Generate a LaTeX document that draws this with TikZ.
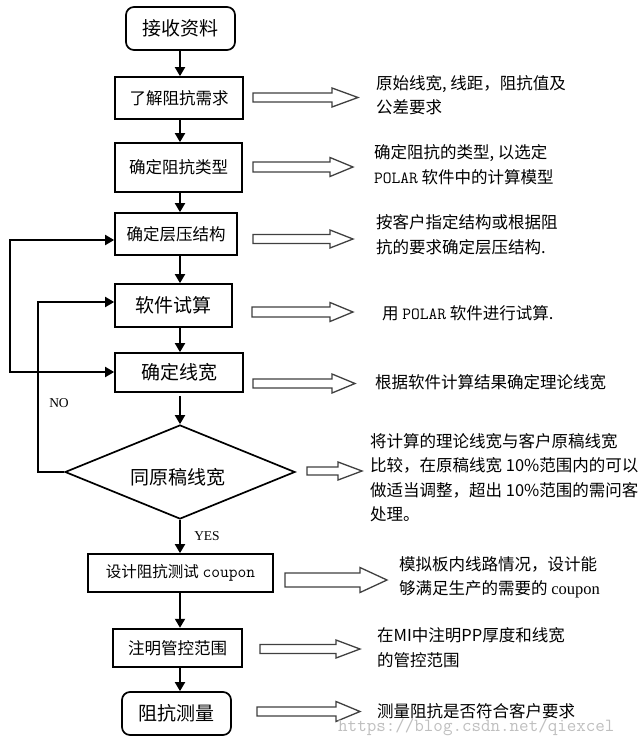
\documentclass[tikz,border=0pt]{standalone}
\usepackage{fontspec}
\setmainfont{Liberation Serif}
\newfontfamily\cjk{Noto Sans CJK SC}
\newcommand\mymono{\ttfamily}
\usetikzlibrary{arrows.meta,shapes.geometric}
\newcommand\hollowarr[6]{%
  \draw[blk] (#1,{#4-#5}) -- (#2,{#4-#5}) -- (#2,{#4-#6}) -- (#3,#4) -- (#2,{#4+#6}) -- (#2,{#4+#5}) -- (#1,{#4+#5}) -- cycle;}
\begin{document}
\begin{tikzpicture}[x=1pt,y=-1pt,
  boxs/.style={draw, line width=1.7pt, inner sep=0pt, font=\cjk\fontsize{16.5}{18}\selectfont},
  boxl/.style={draw, line width=1.7pt, inner sep=0pt, font=\cjk\fontsize{19}{21}\selectfont},
  rbox/.style={boxl, rounded corners=8pt},
  dia/.style={draw, line width=1.7pt, diamond, inner sep=0pt, shape aspect=2.44,
    minimum width=230pt, minimum height=94pt},
  diatext/.style={inner sep=0pt, font=\cjk\fontsize{19}{21}\selectfont},
  flow/.style={line width=1.8pt, -{Triangle[length=9pt,width=10pt]}},
  flowboth/.style={line width=1.8pt, {Triangle[length=9pt,width=10pt]}-{Triangle[length=9pt,width=10pt]}},
  blk/.style={draw=black!75, line width=1.3pt, fill=white},
  note/.style={anchor=west, align=left, inner sep=0pt, font=\cjk\fontsize{16.5}{24.5}\selectfont},
  lbl/.style={inner sep=0pt, font=\fontsize{13.5}{15}\selectfont},
]
\useasboundingbox (0,0) rectangle (638,742);
\fill[white] (0,0) rectangle (638,742);

\coordinate (ax) at (180,0);
% flow boxes
\node[rbox, minimum width=109pt, minimum height=43pt] (recv) at (180.5,28.5) {接收资料};
\node[boxs, minimum width=128pt, minimum height=42pt] (need) at (179,98) {了解阻抗需求};
\node[boxs, minimum width=127pt, minimum height=49pt] (type) at (178.5,167.5) {确定阻抗类型};
\node[boxs, minimum width=122pt, minimum height=42pt] (lay) at (176,234) {确定层压结构};
\node[boxl, minimum width=117pt, minimum height=43pt] (soft) at (173.5,305.5) {软件试算};
\node[boxl, minimum width=128pt, minimum height=39pt] (wid) at (179,372.5) {确定线宽};
\node[dia] (cmp) at (180,472) {};
\node[diatext] (cmpt) at (178,477) {同原稿线宽};
\node[boxs, minimum width=185pt, minimum height=38pt, font=\fontsize{15.5}{18}\selectfont] (cpn) at (180.5,573) {{\cjk 设计阻抗测试} {\mymono\fontsize{17}{18}\selectfont coupon}};
\node[boxs, line width=2.4pt, minimum width=129pt, minimum height=38pt] (mark) at (177.5,648) {注明管控范围};
\node[rbox, minimum width=109pt, minimum height=43pt] (meas) at (176.5,713.5) {阻抗测量};

% vertical flow
\draw[flow] (recv.south -| ax) -- (need.north -| ax);
\draw[flow] (need.south -| ax) -- (type.north -| ax);
\draw[flow] (type.south -| ax) -- (lay.north -| ax);
\draw[flow] (lay.south -| ax) -- (soft.north -| ax);
\draw[flow] (soft.south -| ax) -- (wid.north -| ax);
\draw[flow] ([yshift=-3pt]wid.south -| ax) -- (cmp.north);
\draw[flow] (cmp.south) -- (cpn.north -| ax) node[lbl, pos=0.5, xshift=27pt] (yes) {YES};
\draw[flow] (cpn.south -| ax) -- (mark.north -| ax);
\draw[flow] (mark.south -| ax) -- (meas.north -| ax);

% loops
\coordinate (c1) at (10,240);
\coordinate (c2) at (10,372);
\draw[flowboth] (lay.west |- c1) -- (c1) -- (c2) -- (wid.west |- c2);
\coordinate (noc) at (38,302);
\draw[flow] (cmp.west) -| (noc) -- (soft.west |- noc);
\node[lbl] (no) at (59,403) {NO};

% hollow arrows
\hollowarr{253}{332}{358}{97.5}{4.5}{9.5}
\hollowarr{253}{330}{353}{167}{5}{9.5}
\hollowarr{253}{330}{353}{239}{4.5}{9}
\hollowarr{252}{330}{353}{312}{5}{9.5}
\hollowarr{253}{332}{355}{383.5}{4.5}{9.5}
\hollowarr{307}{338}{362}{471}{4}{9}
\hollowarr{285}{360}{387}{580}{7}{12.5}
\hollowarr{260}{336}{360}{649}{4.5}{9}
\hollowarr{257}{336}{360}{711.5}{4.5}{10}

% notes
\node[note] (n1) at (376,95) {原始线宽, 线距，阻抗值及\\公差要求};
\node[note] (n2) at (374,164.5) {确定阻抗的类型, 以选定\\{\mymono\fontsize{17}{18}\selectfont POLAR} 软件中的计算模型};
\node[note] (n3) at (376,234.5) {按客户指定结构或根据阻\\抗的要求确定层压结构.};
\node[note] (n4) at (382,313) {用 {\mymono\fontsize{17}{18}\selectfont POLAR} 软件进行试算.};
\node[note] (n5) at (375,382) {根据软件计算结果确定理论线宽};
\node[note] (n6) at (370,477.5) {将计算的理论线宽与客户原稿线宽\\比较，在原稿线宽 10\%范围内的可以\\做适当调整，超出 10\%范围的需问客\\处理。};
\node[note] (n7) at (399,577.5) {模拟板内线路情况，设计能\\够满足生产的需要的 {\rmfamily coupon}};
\node[note] (n8) at (377,647.5) {在MI中注明PP厚度和线宽\\的管控范围};
\node[note] (n9) at (377,711) {测量阻抗是否符合客户要求};

% watermark
\node[anchor=west, inner sep=0pt, text=black!25, font=\mymono\fontsize{18.5}{20}\selectfont] (wm) at (338,727) {https://blog.csdn.net/qiexcel};
\end{tikzpicture}
\end{document}
